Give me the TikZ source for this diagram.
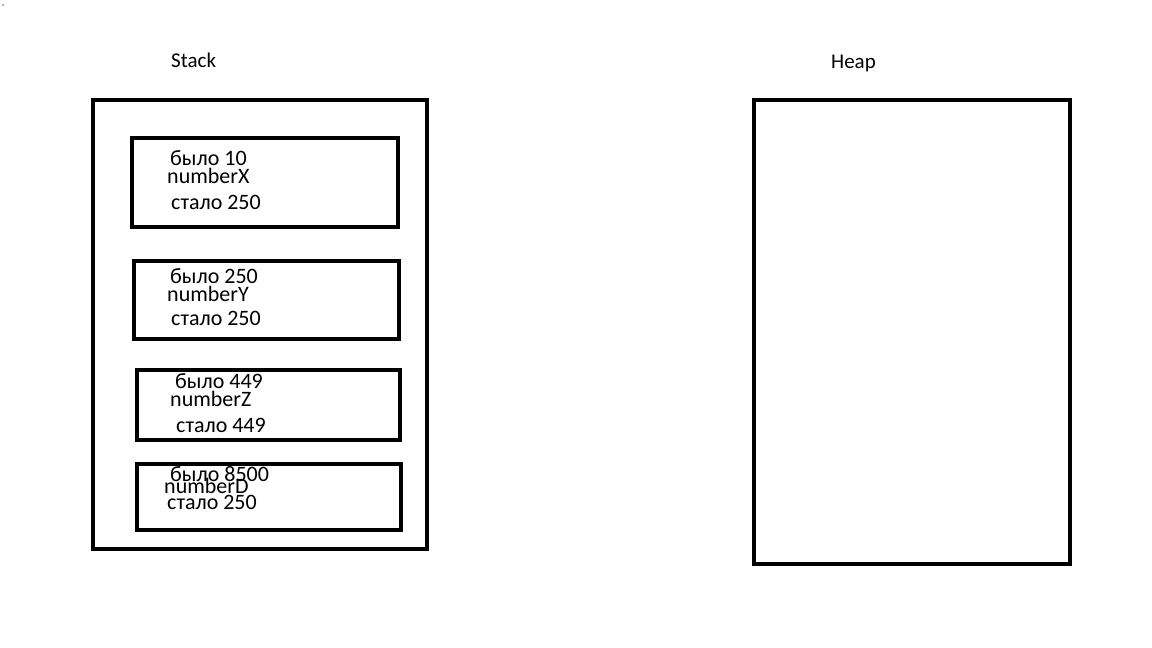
\documentclass[tikz,border=0pt]{standalone}
\usepackage{fontspec}
\setmainfont{Carlito}
\begin{document}
\begin{tikzpicture}[x=1pt,y=-1pt,
  frame/.style={draw=black,line width=4pt,inner sep=0pt,outer sep=0pt,anchor=north west},
  lbl/.style={anchor=base west,inner sep=0pt,font=\fontsize{22}{26}\selectfont},
  title/.style={anchor=base west,inner sep=0pt,font=\fontsize{21}{25}\selectfont}]
\useasboundingbox[fill=white] (0,0) rectangle (1152,648);
\fill[gray!60] (2,4) rectangle (3.5,5.5);
% titles
\node[title] (stacklbl) at (171,67) {Stack};
\node[title] (heaplbl) at (831,68) {Heap};
% outer frames
\node[frame,minimum width=334pt,minimum height=449pt] (stack) at (93,100) {};
\node[frame,minimum width=316pt,minimum height=464pt] (heap) at (754,100) {};
% inner boxes
\node[frame,minimum width=266pt,minimum height=89pt] (bx) at (132,138) {};
\node[frame,minimum width=265pt,minimum height=78pt] (by) at (134,261) {};
\node[frame,minimum width=263pt,minimum height=70pt] (bz) at (137,370) {};
\node[frame,minimum width=264pt,minimum height=66pt] (bd) at (137,464) {};
% texts box X
\node[lbl] (x1) at (170,165) {было 10};
\node[lbl] (x2) at (167,183) {numberX};
\node[lbl] (x3) at (171,209) {стало 250};
% texts box Y
\node[lbl] (y1) at (170,283) {было 250};
\node[lbl] (y2) at (167,301) {numberY};
\node[lbl] (y3) at (171,325) {стало 250};
% texts box Z
\node[lbl] (z1) at (175,388) {было 449};
\node[lbl] (z2) at (170,406) {numberZ};
\node[lbl] (z3) at (176,432) {стало 449};
% texts box D
\node[lbl] (d1) at (170,481) {было 8500};
\node[lbl] (d2) at (164,493) {numberD};
\node[lbl] (d3) at (167,509) {стало 250};
\end{tikzpicture}
\end{document}
